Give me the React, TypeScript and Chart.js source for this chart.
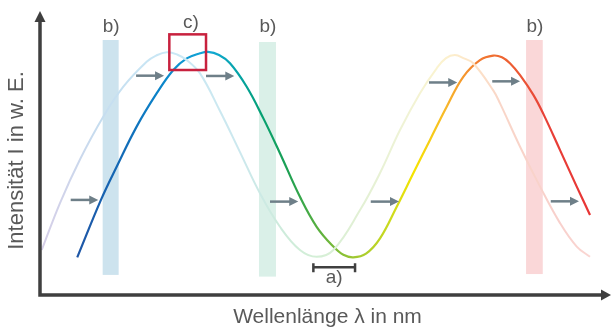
import React, { useEffect, useRef } from "react";
import { Chart, registerables } from "chart.js";

Chart.register(...registerables);

// Shifted (coloured) spectrum: wavelength (nm) and intensity (a.u.)
const shiftedWavelength = [376.1, 392.7, 403.7, 417.7, 431.8, 443.4, 452.8, 462.1, 467.7, 475.4, 483.1, 494.8, 506.4, 518.1, 532.1, 543.8, 555.5, 562.5, 569.5, 578.4, 588.2, 599.9, 611.5, 623.2, 634.9, 646.5, 658.2, 667.5, 673.6, 679.2, 686.3, 695.6, 702.6, 714.3, 726.0, 735.3];
const shiftedIntensity = [13.3, 33.6, 45.3, 59.5, 71.3, 79.5, 83.6, 85.4, 85.9, 84.8, 81.9, 73.6, 62.5, 50.1, 34.7, 24.1, 17.1, 14.2, 13.3, 14.6, 20.0, 31.2, 43.0, 54.8, 66.5, 77.1, 83.0, 84.6, 84.0, 81.9, 77.7, 70.7, 64.0, 51.2, 38.3, 28.3];

// Original (faded) spectrum
const originalWavelength = [351.2, 364.0, 378.0, 394.3, 408.4, 424.7, 431.3, 438.8, 446.0, 452.8, 462.1, 476.1, 490.1, 504.1, 518.1, 532.1, 543.8, 555.5, 574.2, 588.2, 602.2, 616.2, 627.9, 634.4, 640.7, 647.0, 653.5, 667.5, 672.2, 686.3, 700.3, 714.3, 726.0, 735.3];
const originalIntensity = [15.9, 32.5, 47.9, 63.0, 73.6, 82.4, 84.6, 85.8, 85.0, 83.0, 78.3, 65.0, 50.5, 35.9, 24.1, 15.9, 13.5, 15.9, 30.0, 43.1, 58.3, 71.3, 80.1, 83.7, 84.8, 83.6, 81.9, 72.3, 67.8, 52.4, 38.3, 25.4, 17.1, 13.5];

// Colour gradient stops (nm) for the curves
const shiftedStopNm = [376, 404, 432, 468, 490, 506, 524, 546, 570, 596, 612, 634, 657, 675, 703, 735];
const shiftedStopColor = ["#1f56a6", "#1467b4", "#0b82c8", "#12a9d8", "#05a3a4", "#06a070", "#1ea052", "#5cb03e", "#9fc832", "#cddb1e", "#f6e400", "#f8b82a", "#f27c30", "#ee6432", "#e84238", "#e83535"];
const originalStopNm = [351, 392, 439, 490, 518, 544, 574, 602, 630, 651, 672, 714, 735];
const originalStopColor = ["#d6cee7", "#c6ddef", "#c9e8f6", "#cce8ee", "#cdebdc", "#d4efd6", "#e2f0d4", "#eef3d6", "#fbf3cf", "#fde6c8", "#f9d6c8", "#f8d0cc", "#fad6d2"];

// Filter bands b): start nm, end nm, bottom, top intensity, colour
const bandStart = [393.9, 503.4, 690.5];
const bandEnd = [405.1, 515.3, 702.2];
const bandBottom = [7.1, 6.5, 7.4];
const bandTop = [90.1, 89.4, 90.1];
const bandColor = ["#cde3ee", "#daf0e8", "#fad7d8"];

// Shift arrows: from nm, to nm, intensity
const arrowFrom = [371.5, 417.3, 466.3, 511.1, 581.7, 622.5, 666.8, 707.8];
const arrowTo = [390.8, 436.9, 486.1, 530.9, 601.5, 642.3, 686.3, 727.6];
const arrowLevel = [33.6, 77.5, 77.4, 33.0, 33.0, 75.1, 75.5, 33.1];

// Peak box c)
const boxNm = [440.6, 466.3];
const boxIntensity = [79.5, 92.1];

// Bracket a)
const bracketNm = [541.5, 570.7];
const bracketLevel = 9.8;

const textColor = "#595959";
const font = "'Liberation Sans', Arial, sans-serif";

function App() {
  const ref = useRef<HTMLCanvasElement | null>(null);

  useEffect(() => {
    document.body.style.margin = "0";
    const canvas = ref.current;
    if (!canvas) return;

    const makeGradient = (chart: any, stops: number[], colors: string[]) => {
      const xs = chart.scales.x;
      if (!xs || !chart.chartArea) return colors[0];
      const x0 = xs.getPixelForValue(350);
      const x1 = xs.getPixelForValue(750);
      const g = chart.ctx.createLinearGradient(x0, 0, x1, 0);
      stops.forEach((nm, i) => {
        const t = Math.min(1, Math.max(0, (nm - 350) / 400));
        g.addColorStop(t, colors[i]);
      });
      return g;
    };

    const schematic = {
      id: "schematic",
      beforeDatasetsDraw(chart: any) {
        const { ctx } = chart;
        const xs = chart.scales.x;
        const ys = chart.scales.y;
        ctx.save();
        bandStart.forEach((s, i) => {
          const x0 = xs.getPixelForValue(s);
          const x1 = xs.getPixelForValue(bandEnd[i]);
          const y0 = ys.getPixelForValue(bandTop[i]);
          const y1 = ys.getPixelForValue(bandBottom[i]);
          ctx.fillStyle = bandColor[i];
          ctx.fillRect(x0, y0, x1 - x0, y1 - y0);
          ctx.fillStyle = textColor;
          ctx.font = `19px ${font}`;
          ctx.textAlign = "center";
          ctx.textBaseline = "alphabetic";
          ctx.fillText("b)", (x0 + x1) / 2 + 0.5, ys.getPixelForValue(93.1));
        });
        ctx.restore();
      },
      afterDatasetsDraw(chart: any) {
        const { ctx } = chart;
        const xs = chart.scales.x;
        const ys = chart.scales.y;
        const area = chart.chartArea;
        ctx.save();
        // arrows
        ctx.strokeStyle = "#6e7f88";
        ctx.fillStyle = "#6e7f88";
        ctx.lineWidth = 2.5;
        arrowFrom.forEach((f, i) => {
          const x0 = xs.getPixelForValue(f);
          const x1 = xs.getPixelForValue(arrowTo[i]);
          const y = ys.getPixelForValue(arrowLevel[i]);
          ctx.beginPath();
          ctx.moveTo(x0, y);
          ctx.lineTo(x1 - 7, y);
          ctx.stroke();
          ctx.beginPath();
          ctx.moveTo(x1, y);
          ctx.lineTo(x1 - 9, y - 4.5);
          ctx.lineTo(x1 - 9, y + 4.5);
          ctx.closePath();
          ctx.fill();
        });
        // box c)
        const bx0 = xs.getPixelForValue(boxNm[0]);
        const bx1 = xs.getPixelForValue(boxNm[1]);
        const by0 = ys.getPixelForValue(boxIntensity[1]);
        const by1 = ys.getPixelForValue(boxIntensity[0]);
        ctx.strokeStyle = "#c8213e";
        ctx.lineWidth = 2.5;
        ctx.strokeRect(bx0, by0, bx1 - bx0, by1 - by0);
        ctx.fillStyle = textColor;
        ctx.font = `19px ${font}`;
        ctx.textAlign = "center";
        ctx.textBaseline = "alphabetic";
        ctx.fillText("c)", xs.getPixelForValue(455.8), ys.getPixelForValue(94.5));
        // bracket a)
        const ax0 = xs.getPixelForValue(bracketNm[0]);
        const ax1 = xs.getPixelForValue(bracketNm[1]);
        const ay = ys.getPixelForValue(bracketLevel);
        ctx.strokeStyle = "#404040";
        ctx.lineWidth = 2.5;
        ctx.beginPath();
        ctx.moveTo(ax0, ay);
        ctx.lineTo(ax1, ay);
        ctx.moveTo(ax0, ay - 4);
        ctx.lineTo(ax0, ay + 5);
        ctx.moveTo(ax1, ay - 4);
        ctx.lineTo(ax1, ay + 5);
        ctx.stroke();
        ctx.fillText("a)", (ax0 + ax1) / 2, ys.getPixelForValue(4.2));
        // axes
        ctx.strokeStyle = "#3f3f3f";
        ctx.fillStyle = "#3f3f3f";
        ctx.lineWidth = 3.5;
        ctx.beginPath();
        ctx.moveTo(area.left, area.top + 8);
        ctx.lineTo(area.left, area.bottom);
        ctx.lineTo(area.right - 8, area.bottom);
        ctx.stroke();
        ctx.beginPath();
        ctx.moveTo(area.left, area.top - 1);
        ctx.lineTo(area.left - 5.5, area.top + 10);
        ctx.lineTo(area.left + 5.5, area.top + 10);
        ctx.closePath();
        ctx.fill();
        ctx.beginPath();
        ctx.moveTo(area.right, area.bottom);
        ctx.lineTo(area.right - 10, area.bottom - 5.5);
        ctx.lineTo(area.right - 10, area.bottom + 5.5);
        ctx.closePath();
        ctx.fill();
        // axis titles
        ctx.fillStyle = textColor;
        ctx.font = `21px ${font}`;
        ctx.textAlign = "center";
        ctx.textBaseline = "alphabetic";
        ctx.fillText("Wellenlänge λ in nm", (area.left + area.right) / 2 + 2, area.bottom + 28);
        ctx.save();
        ctx.font = `22px ${font}`;
        ctx.translate(area.left - 17, (area.top + area.bottom) / 2 + 7);
        ctx.rotate(-Math.PI / 2);
        ctx.fillText("Intensität I in w. E.", 0, 0);
        ctx.restore();
        ctx.restore();
      },
    };

    const chart = new Chart(canvas, {
      type: "line",
      data: {
        datasets: [
          {
            label: "original",
            data: originalWavelength.map((x, i) => ({ x, y: originalIntensity[i] })),
            borderColor: (c: any) => makeGradient(c.chart, originalStopNm, originalStopColor),
            borderWidth: 2,
            pointRadius: 0,
            tension: 0.4,
            fill: false,
          },
          {
            label: "shifted",
            data: shiftedWavelength.map((x, i) => ({ x, y: shiftedIntensity[i] })),
            borderColor: (c: any) => makeGradient(c.chart, shiftedStopNm, shiftedStopColor),
            borderWidth: 2.2,
            pointRadius: 0,
            tension: 0.4,
            fill: false,
          },
        ],
      },
      options: {
        animation: false,
        responsive: false,
        layout: { padding: { left: 40, top: 12, right: 0, bottom: 32 } },
        plugins: { legend: { display: false }, tooltip: { enabled: false } },
        scales: {
          x: { type: "linear", min: 350, max: 750, display: false },
          y: { type: "linear", min: 0, max: 100, display: false },
        },
      } as any,
      plugins: [schematic],
    });
    return () => chart.destroy();
  }, []);

  return (
    <div style={{ width: 611, height: 327 }}>
      <canvas ref={ref} width={611} height={327} style={{ display: "block" }} />
    </div>
  );
}

export default App;
